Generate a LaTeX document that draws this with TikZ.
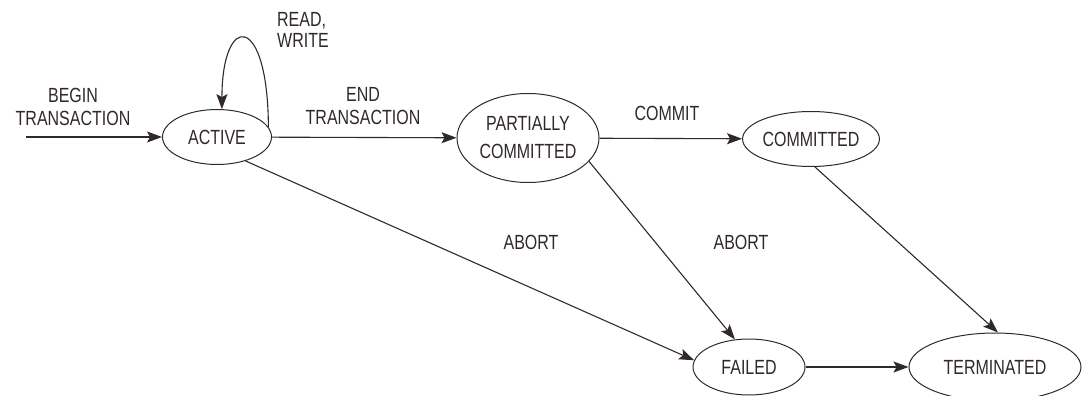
\documentclass[tikz,border=0pt]{standalone}
\usepackage{fontspec}
\setmainfont{Liberation Sans}[FakeStretch=0.78]
\usetikzlibrary{arrows.meta,shapes.geometric}
\definecolor{ink}{RGB}{48,40,44}
\tikzset{
  state/.style={ellipse,draw=ink,line width=1pt,inner sep=0pt,text=ink,align=center,font=\fontsize{20.5}{28}\selectfont},
  lbl/.style={text=ink,inner sep=0pt,font=\fontsize{20.5}{23}\selectfont},
  edge/.style={draw=ink,line width=1.1pt,-{Stealth[length=15pt,width=11pt,inset=3pt]}}
}
\begin{document}
\begin{tikzpicture}[x=1pt,y=-1pt]
\useasboundingbox (0,0) rectangle (1082,396);
\node[state,minimum width=109pt,minimum height=55pt] (active) at (217,137) {ACTIVE};
\node[state,minimum width=142pt,minimum height=89pt] (partial) at (528,138) {PARTIALLY\\COMMITTED};
\node[state,minimum width=131pt,minimum height=55pt] (committed) at (811,139) {COMMITTED};
\node[state,minimum width=112pt,minimum height=56pt] (failed) at (749,367) {FAILED};
\node[state,minimum width=172pt,minimum height=68pt] (terminated) at (995,367) {TERMINATED};
\coordinate (start) at (26,137);
\node[lbl,align=center] (lbegin) at (73,106.5) {BEGIN\\TRANSACTION};
\node[lbl,align=left,anchor=west,font=\fontsize{20.5}{21}\selectfont] (lrw) at (277,30) {READ,\\WRITE};
\node[lbl,align=center] (lend) at (363,106.5) {END\\TRANSACTION};
\node[lbl] (lcommit) at (667,113) {COMMIT};
\node[lbl] (labort1) at (531,242) {ABORT};
\node[lbl] (labort2) at (741,242) {ABORT};
\draw[edge] (start) -- (active);
\draw[edge] (active.11) .. controls (268,12) and (222,12) .. (active.80);
\draw[edge] (active) -- (partial);
\draw[edge] (partial) -- (committed);
\draw[edge] (active.-40) -- (failed.173);
\draw[edge] (partial.-21) -- (failed.117);
\draw[edge] (committed.-82) -- (terminated.85);
\draw[edge] (failed) -- (terminated);
\end{tikzpicture}
\end{document}
